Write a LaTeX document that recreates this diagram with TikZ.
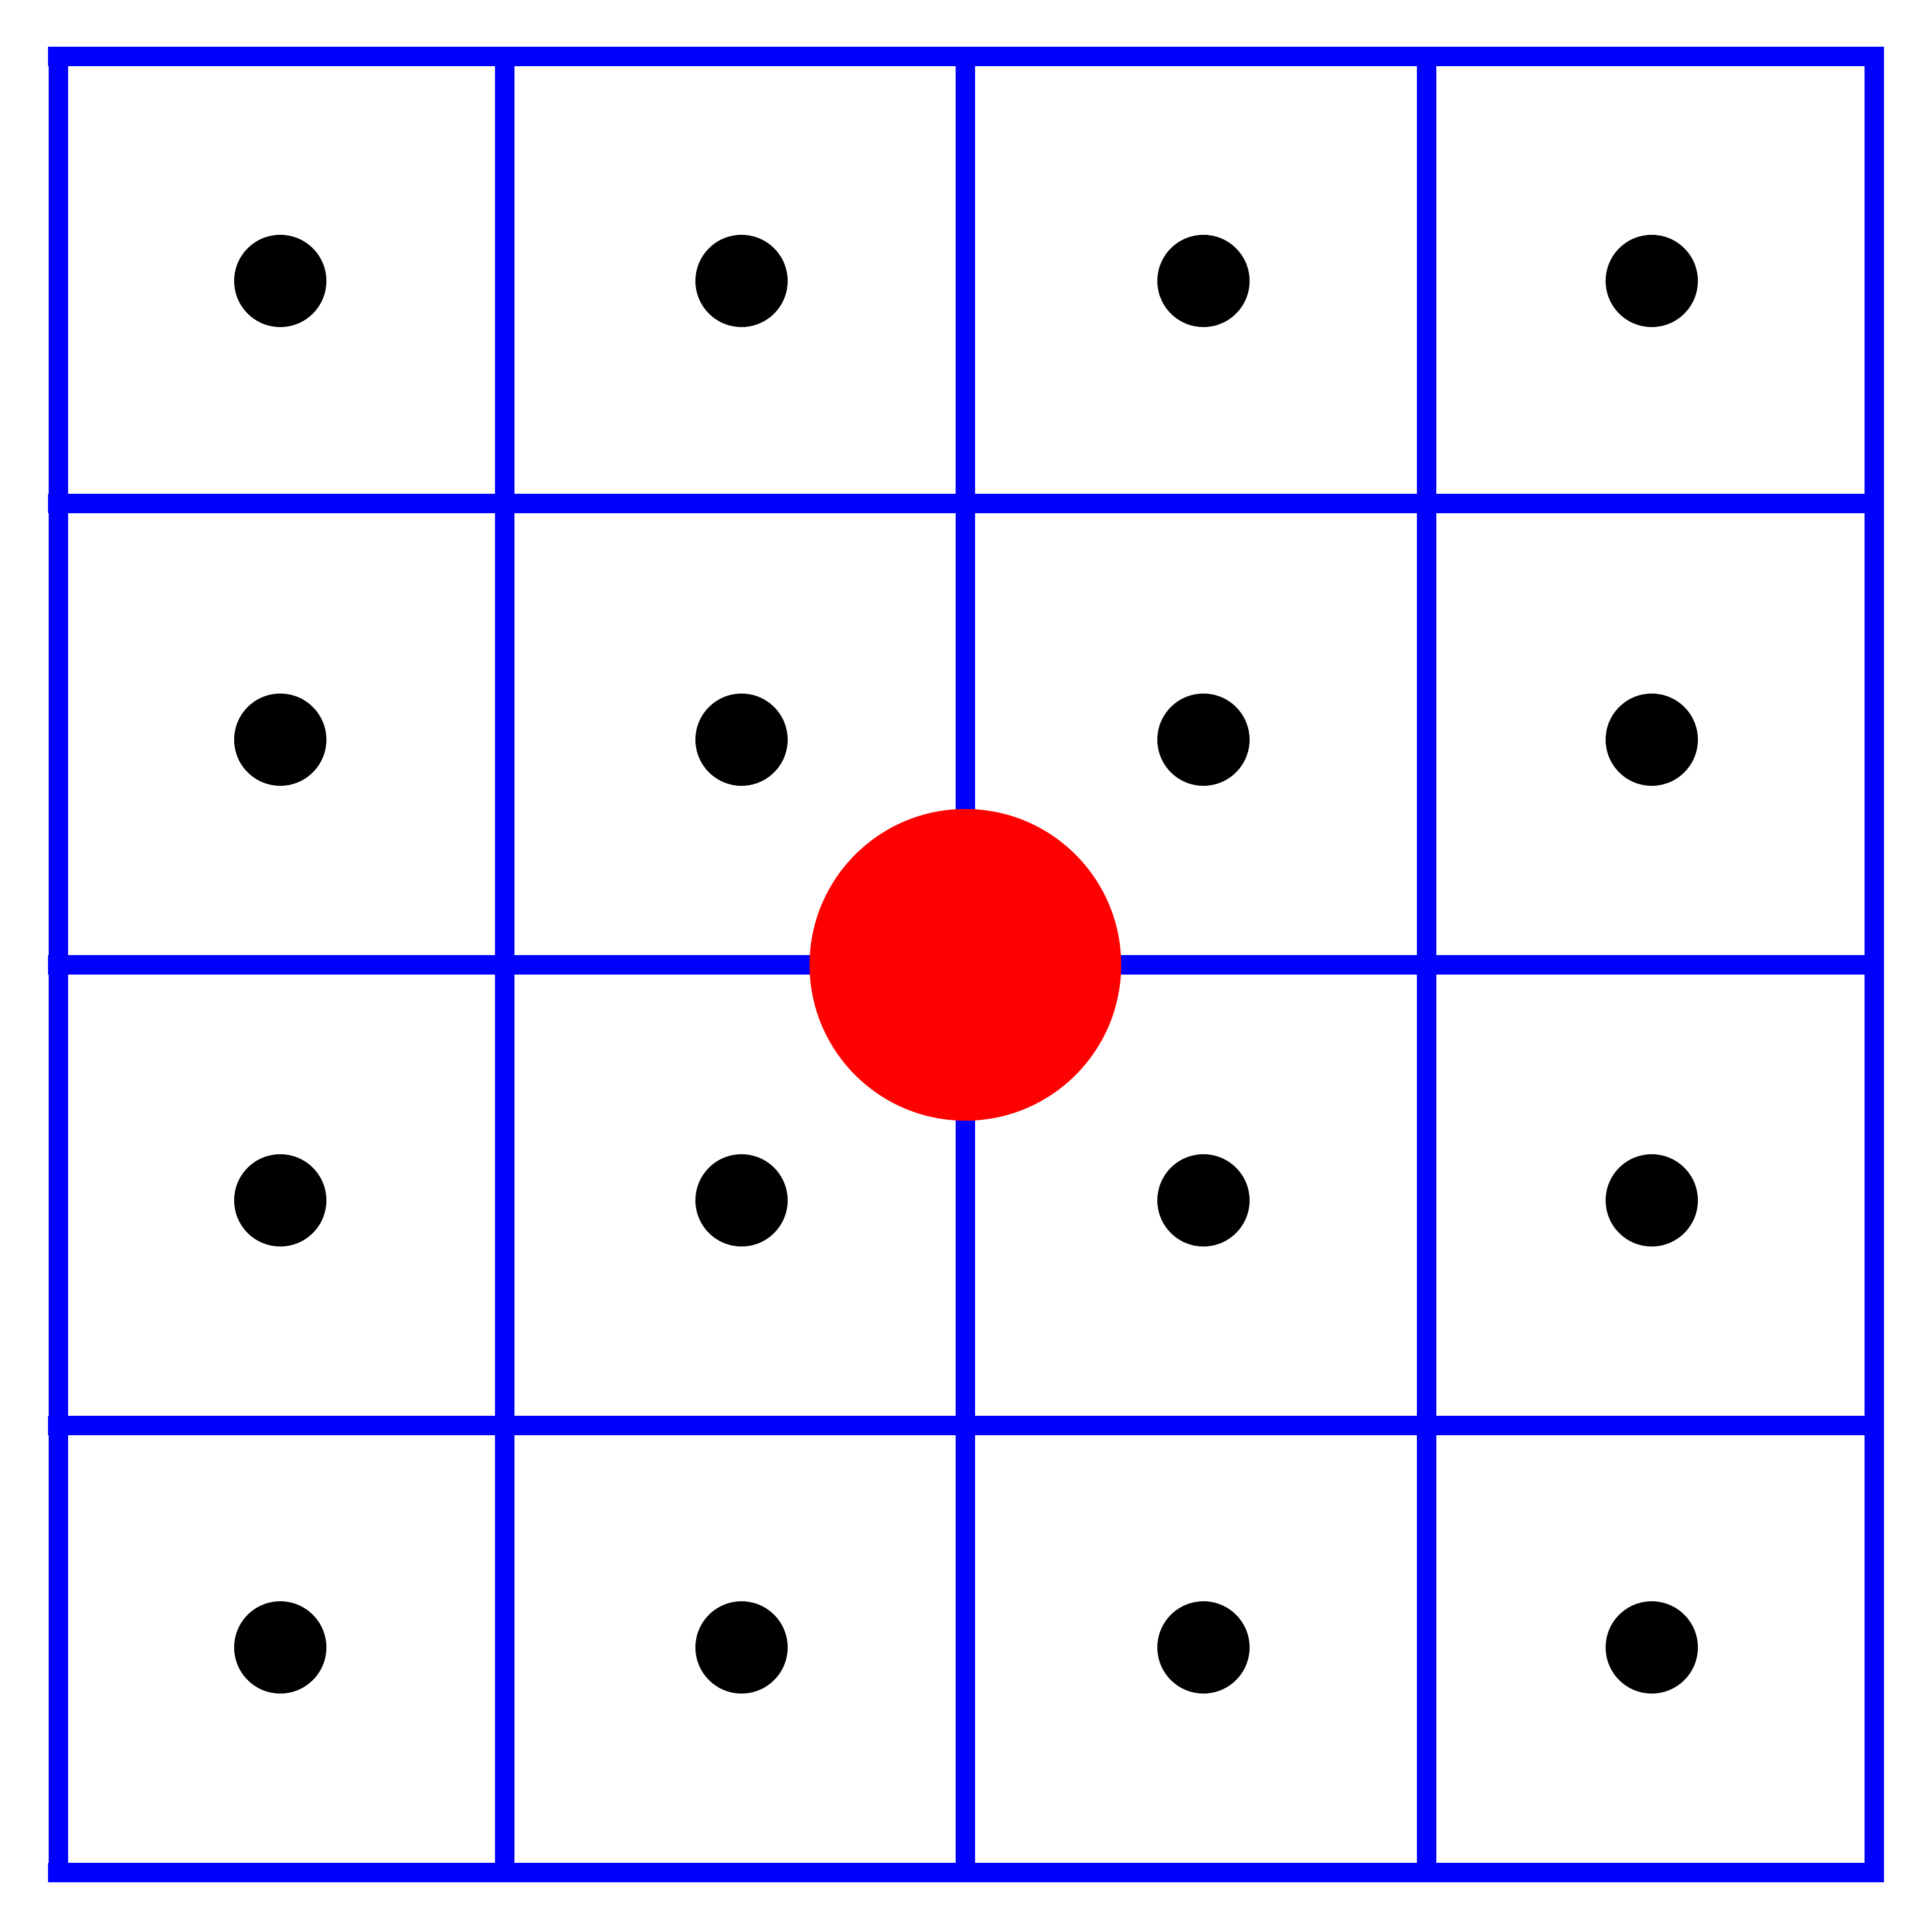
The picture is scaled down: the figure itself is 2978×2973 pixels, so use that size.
\documentclass[tikz,border=0pt]{standalone}
\begin{document}
\begin{tikzpicture}[x=0.01cm,y=-0.01cm,
  gridline/.style={draw={rgb,255:red,0;green,0;blue,255},line width=0.3cm,line cap=butt},
  dotnode/.style={circle,fill=black,draw=none,minimum size=1.42cm,inner sep=0pt},
  bignode/.style={circle,fill={rgb,255:red,255;green,0;blue,0},draw=none,minimum size=4.8cm,inner sep=0pt}]
\path[use as bounding box,fill=white] (0,0) rectangle (2978,2973);
% vertical lines
\foreach \x in {90,778,1488,2198.5,2889}
  \draw[gridline] (\x,72) -- (\x,2900);
% horizontal lines
\foreach \y in {87,776,1487,2196.5,2885.5}
  \draw[gridline] (74,\y) -- (2904,\y);
% dots
\foreach \x/\i in {432/1,1143/2,1855/3,2546/4}
  \foreach \y/\j in {433/1,1140/2,1850/3,2539/4}
    \node[dotnode] (d\i\j) at (\x,\y) {};
% red circle
\node[bignode] (center) at (1488,1487) {};
\end{tikzpicture}
\end{document}
